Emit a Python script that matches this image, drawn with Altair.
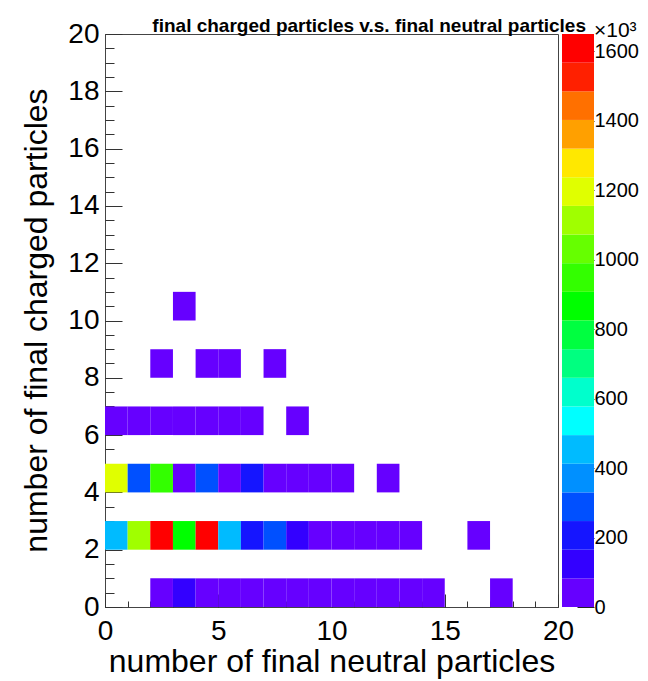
import altair as alt
import pandas as pd

# ---- data: counts per (neutral, charged) bin, in units of 10^3 ----
row0_x = [2, 3, 4, 5, 6, 7, 8, 9, 10, 11, 12, 13, 14, 17]
row0_v = [45, 120, 60, 55, 50, 45, 40, 35, 30, 25, 20, 15, 10, 5]
row2_x = [0, 1, 2, 3, 4, 5, 6, 7, 8, 9, 10, 11, 12, 13, 16]
row2_v = [450, 1110, 1590, 870, 1650, 445, 210, 300, 130, 70, 50, 35, 20, 10, 5]
row4_x = [0, 1, 2, 3, 4, 5, 6, 7, 8, 9, 10, 12]
row4_v = [1200, 300, 940, 75, 310, 70, 200, 60, 45, 30, 20, 5]
row6_x = [0, 1, 2, 3, 4, 5, 6, 8]
row6_v = [40, 50, 45, 35, 30, 20, 10, 3]
row8_x = [2, 4, 5, 7]
row8_v = [8, 10, 6, 2]
row10_x = [3]
row10_v = [2]

rows = {0: (row0_x, row0_v), 2: (row2_x, row2_v), 4: (row4_x, row4_v),
        6: (row6_x, row6_v), 8: (row8_x, row8_v), 10: (row10_x, row10_v)}

recs = []
for nc, (xs, vs) in rows.items():
    for nx, v in zip(xs, vs):
        recs.append({"nx": nx, "nc": nc, "count": v})
df = pd.DataFrame(recs)

z_max = 1650
palette = ["#6600ff", "#3300ff", "#1515ff", "#0050ff", "#0090ff",
           "#00bbff", "#00ffff", "#00ffcc", "#00ff80", "#00ff40",
           "#00ff00", "#33ff00", "#66ff00", "#a0ff00", "#e0ff00",
           "#ffe800", "#ffa000", "#ff7000", "#ff2000", "#ff0000"]
n_bands = len(palette)
bands = pd.DataFrame({
    "lo": [i * z_max / n_bands for i in range(n_bands)],
    "hi": [(i + 1) * z_max / n_bands for i in range(n_bands)],
    "col": palette,
    "c0": [0] * n_bands,
    "c1": [1] * n_bands,
})

x_major = [0, 5, 10, 15, 20]
x_minor = list(range(0, 21))
y_major = list(range(0, 21, 2))
y_minor = [i * 0.5 for i in range(41)]
z_ticks = [0, 200, 400, 600, 800, 1000, 1200, 1400, 1600]

FONT = "Liberation Sans"
W, H = 453, 573
CB_W = 32
XT_MAJ, XT_MIN = 13, 6
YT_MAJ, YT_MIN = 17, 9
ZT = 17

xscale = alt.Scale(domain=[0, 20], nice=False, zero=False)
yscale = alt.Scale(domain=[0, 20], nice=False, zero=False)
cscale = alt.Scale(type="quantize", domain=[0, z_max], range=palette)

base = alt.Chart(df).transform_calculate(nx2="datum.nx + 1", nc2="datum.nc + 1")

heat = base.mark_rect().encode(
    x=alt.X("nx:Q", scale=xscale,
            axis=alt.Axis(values=x_major, ticks=False, tickSize=0, domain=False, grid=False,
                          labelFontSize=28, labelPadding=10, labelFont=FONT, labelColor="black",
                          labelFlush=False, labelOverlap=False, format="d",
                          title="number of final neutral particles", titleFont=FONT,
                          titleFontSize=32, titleFontWeight="normal", titleColor="black",
                          titleY=64, titleBaseline="alphabetic")),
    x2="nx2:Q",
    y=alt.Y("nc:Q", scale=yscale,
            axis=alt.Axis(values=y_major, ticks=False, tickSize=0, domain=False, grid=False,
                          labelFontSize=28, labelPadding=6, labelFont=FONT, labelColor="black",
                          labelFlush=False, labelOverlap=False, format="d",
                          title="number of final charged particles", titleFont=FONT,
                          titleFontSize=32, titleFontWeight="normal", titleColor="black",
                          titleX=-59, titleY=286, titleAngle=-90, titleAlign="center",
                          titleBaseline="alphabetic")),
    y2="nc2:Q",
    color=alt.Color("count:Q", scale=cscale, legend=None),
)

def tick_layer(xvals, xsize, yvals, ysize):
    return base.mark_point(opacity=0).encode(
        x=alt.X("nx:Q", scale=xscale,
                axis=alt.Axis(orient="bottom", offset=-xsize, values=xvals, tickSize=xsize,
                              labels=False, domain=False, grid=False, title=None,
                              tickColor="#333333")),
        y=alt.Y("nc:Q", scale=yscale,
                axis=alt.Axis(orient="left", offset=-ysize, values=yvals, tickSize=ysize,
                              labels=False, domain=False, grid=False, title=None,
                              tickColor="#333333")),
    )

major = tick_layer(x_major, XT_MAJ, y_major, YT_MAJ)
minor = tick_layer(x_minor, XT_MIN, y_minor, YT_MIN)

main = alt.layer(heat, major, minor).resolve_axis(
    x="independent", y="independent"
).properties(
    width=W, height=H,
    view=alt.ViewBackground(stroke="#444444", strokeWidth=1),
    title=alt.TitleParams("final charged particles v.s. final neutral particles",
                          anchor="end", frame="group", dx=28, fontSize=19, fontWeight="bold",
                          font=FONT, color="black", baseline="alphabetic", offset=-30.5),
)

zscale = alt.Scale(domain=[0, z_max], nice=False, zero=False)
cxscale = alt.Scale(domain=[0, 1], nice=False, zero=False)
cb_base = alt.Chart(bands)
bar = cb_base.mark_rect().encode(
    x=alt.X("c0:Q", scale=cxscale, axis=None),
    x2="c1:Q",
    y=alt.Y("lo:Q", scale=zscale,
            axis=alt.Axis(orient="right", values=z_ticks, ticks=False, tickSize=0, domain=False,
                          grid=False, labelFontSize=20, labelPadding=0, labelFont=FONT,
                          labelColor="black", labelFlush=False, labelOverlap=False,
                          format="d", title=None)),
    y2="hi:Q",
    color=alt.Color("col:N", scale=None),
)
bar_ticks = cb_base.mark_point(opacity=0).encode(
    x=alt.X("c0:Q", scale=cxscale, axis=None),
    y=alt.Y("lo:Q", scale=zscale,
            axis=alt.Axis(orient="left", offset=-CB_W, values=z_ticks, tickSize=ZT, labels=False,
                          domain=False, grid=False, title=None, tickColor="#222222")),
)
cbar = alt.layer(bar, bar_ticks).resolve_axis(y="independent").properties(
    width=CB_W, height=H,
    view=alt.ViewBackground(stroke="transparent"),
    title=alt.TitleParams("×10³", anchor="start", frame="group", dx=CB_W, fontSize=21,
                          fontWeight="normal", font=FONT, color="black",
                          baseline="alphabetic", offset=-24),
)

chart = alt.hconcat(main, cbar, spacing=4, bounds="flush").properties(
    padding={"left": 11, "top": 8, "right": 0, "bottom": 40},
    background="white",
)

chart.save("out.html", embed_options={"renderer": "svg", "actions": False})
